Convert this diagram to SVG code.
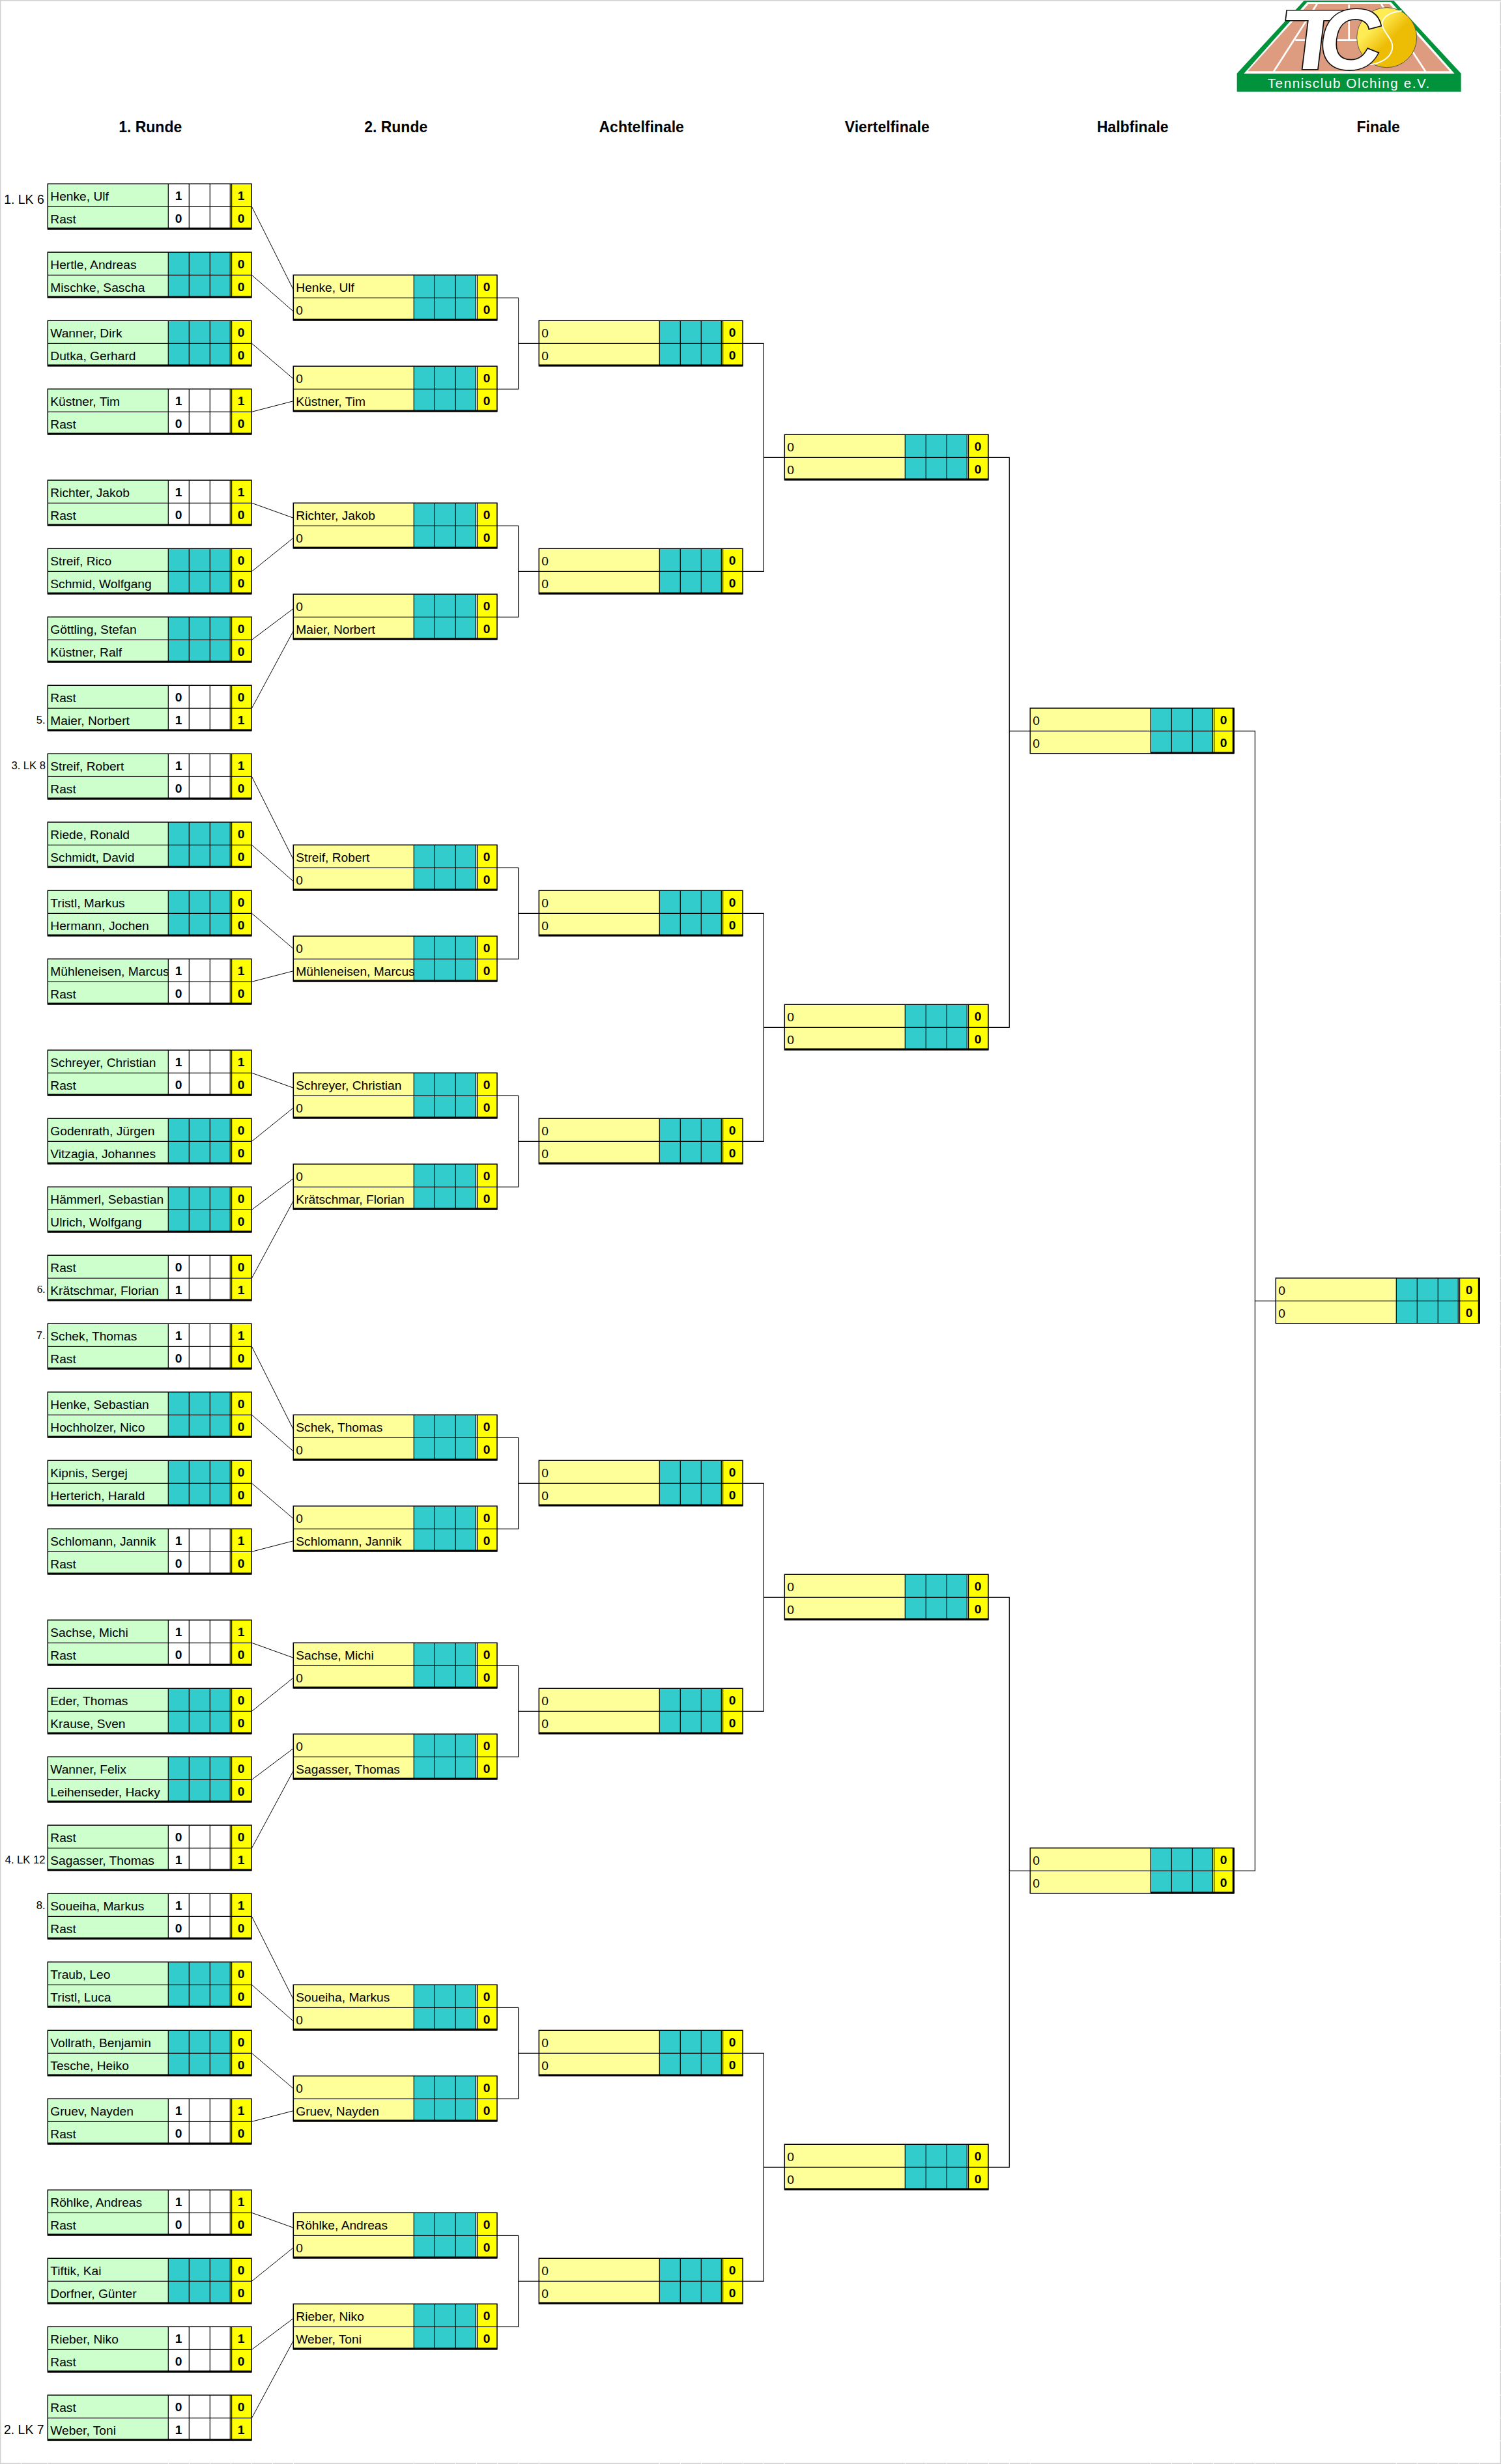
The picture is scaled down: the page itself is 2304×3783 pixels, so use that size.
<svg xmlns="http://www.w3.org/2000/svg" width="2304" height="3783" viewBox="0 0 2304 3783">
<style>
text{font-family:"Liberation Sans",Arial,sans-serif;fill:#000}
.n{font-size:19.2px}
.d{font-size:19.2px;font-weight:700;text-anchor:middle}
.h{font-size:23px;font-weight:700;text-anchor:middle}
.s{font-size:19.4px;text-anchor:end}
.t{font-size:16.6px;text-anchor:end}
.c{fill:none;stroke:#000;stroke-width:1.2}
.v{fill:none;stroke:#000;stroke-width:1}
.o{fill:none;stroke:#000;stroke-width:1.5}
.i{fill:none;stroke:#000;stroke-width:1.2}
.k{fill:none;stroke:#000;stroke-width:3}
</style>
<defs>
<linearGradient id="ball" x1="0.1" y1="0.1" x2="0.75" y2="0.75"><stop offset="0.3" stop-color="#FFEC55"/><stop offset="0.7" stop-color="#EDBC05"/></linearGradient>
<g id="a"><rect width="185" height="69.4" fill="#CCFFCC"/><rect x="281" width="31.7" height="69.4" fill="#FFFF00"/></g>
<g id="b"><rect width="185" height="69.4" fill="#CCFFCC"/><rect x="185" width="96" height="69.4" fill="#33CCCC"/><rect x="281" width="31.7" height="69.4" fill="#FFFF00"/></g>
<g id="e"><rect width="185" height="69.4" fill="#FFFF99"/><rect x="185" width="96" height="69.4" fill="#33CCCC"/><rect x="281" width="31.7" height="69.4" fill="#FFFF00"/></g>
<rect id="w" x="185" width="95" height="69.4" fill="#fff"/>
<g id="g"><path class="i" d="M0,35H312.7M185,0V69.4M217,0V69.4M249,0V69.4M280,0V69.4M282.3,0V69.4"/><path class="o" d="M0,0H312.7V69.4H0Z"/></g>
<g id="f"><use href="#g"/><path class="k" d="M0,68.7H312.7"/></g>
<g id="f5"><use href="#g"/><path class="k" d="M185,68.7H312.7M312,0V69.4"/></g>
<g id="f6"><use href="#g"/><path class="k" d="M312,0V69.4"/></g>
</defs>
<rect width="2304" height="3783" fill="#fff"/>
<g id="page-edge" fill="none" stroke="#D0D0D0" stroke-width="1.4">
<path d="M0.7,0V3783M0,0.7H2304M0,3782.3H2304"/>
<path d="M2303.3,2.8V3783" stroke-dasharray="34 1"/>
<path stroke="#fff" stroke-width="1" d="M32.3,3781V3783M73.3,3781V3783M258.3,3781V3783M290.3,3781V3783M322.3,3781V3783M354.3,3781V3783M386.3,3781V3783M418.3,3781V3783M450.3,3781V3783M635.3,3781V3783M667.3,3781V3783M699.3,3781V3783M731.3,3781V3783M763.3,3781V3783M795.3,3781V3783M827.3,3781V3783M1012.3,3781V3783M1044.3,3781V3783M1076.3,3781V3783M1108.3,3781V3783M1140.3,3781V3783M1172.3,3781V3783M1204.3,3781V3783M1389.3,3781V3783M1421.3,3781V3783M1453.3,3781V3783M1485.3,3781V3783M1517.3,3781V3783M1549.3,3781V3783M1581.3,3781V3783M1766.3,3781V3783M1798.3,3781V3783M1830.3,3781V3783M1862.3,3781V3783M1894.3,3781V3783M1926.3,3781V3783M1958.3,3781V3783M2143.3,3781V3783M2175.3,3781V3783M2207.3,3781V3783M2239.3,3781V3783M2271.3,3781V3783"/>
</g>
<g id="logo" transform="translate(1850,0) scale(.33333)">
<path fill="#00933B" d="M455,3H868L1178,338V422H146V338Z"/>
<path fill="#fff" d="M470,9H855L1148,339H178Z"/>
<path fill="#DD9C80" d="M476,18H848L1126,328H196Z"/>
<path fill="none" stroke="#fff" stroke-width="8" d="M315,330L515,18M1015,330L810,18M415,185H905M662,20V185"/>
<text transform="translate(340,318) skewX(-7) scale(1.2,1)" font-size="390" font-weight="700" style="fill:#fff;stroke:#111;stroke-width:9;paint-order:stroke;stroke-linejoin:miter">T</text>
<circle cx="836" cy="173" r="138" fill="url(#ball)" stroke="#555" stroke-width="3"/>
<path fill="none" stroke="#fff" stroke-width="6" d="M905,50C840,55 800,90 820,130C840,170 870,190 860,230C850,270 800,295 755,297"/>
<text transform="translate(512,318) skewX(-7)" font-size="395" font-weight="700" style="fill:#fff;stroke:#111;stroke-width:10;paint-order:stroke">C</text>
<text x="287" y="405" font-size="62" textLength="746" lengthAdjust="spacing" style="fill:#fff">Tennisclub Olching e.V.</text>
</g>
<g id="headers">
<text class="h" x="230.7" y="202.5">1. Runde</text>
<text class="h" x="607.7" y="202.5">2. Runde</text>
<text class="h" x="984.7" y="202.5">Achtelfinale</text>
<text class="h" x="1361.7" y="202.5">Viertelfinale</text>
<text class="h" x="1738.7" y="202.5">Halbfinale</text>
<text class="h" x="2115.7" y="202.5">Finale</text>
</g>
<g id="seeds">
<text class="s" x="67.7" y="313.3">1. LK 6</text>
<text class="t" x="69.5" y="1111">5.</text>
<text class="t" x="70" y="1181">3. LK 8</text>
<text x="69.5" y="1985" font-size="17" text-anchor="end" style="font-family:'Liberation Serif',serif">6.</text>
<text class="t" x="69.5" y="2055.7">7.</text>
<text class="t" x="69.5" y="2860.7">4. LK 12</text>
<text class="t" x="69.5" y="2930.7">8.</text>
<text class="s" x="67.5" y="3737.3">2. LK 7</text>
</g>
<g id="connectors">
<path class="v" d="M386.5,317.3L450.5,445M386.5,422.3L450.5,478.3M386.5,527.3L450.5,581.7M386.5,632.3L450.5,615.7M386.5,772.3L450.5,795.3M386.5,877.3L450.5,825.7M386.5,982.3L450.5,934.3M386.5,1087.3L450.5,968.3M386.5,1192.3L450.5,1320M386.5,1297.3L450.5,1353.3M386.5,1402.3L450.5,1456.7M386.5,1507.3L450.5,1490.7M386.5,1647.3L450.5,1670.3M386.5,1752.3L450.5,1700.7M386.5,1857.3L450.5,1809.3M386.5,1962.3L450.5,1843.3M386.5,2067.3L450.5,2195M386.5,2172.3L450.5,2228.3M386.5,2277.3L450.5,2331.7M386.5,2382.3L450.5,2365.7M386.5,2522.3L450.5,2545.3M386.5,2627.3L450.5,2575.7M386.5,2732.3L450.5,2684.3M386.5,2837.3L450.5,2718.3M386.5,2942.3L450.5,3070M386.5,3047.3L450.5,3103.3M386.5,3152.3L450.5,3206.7M386.5,3257.3L450.5,3240.7M386.5,3397.3L450.5,3420.3M386.5,3502.3L450.5,3450.7M386.5,3607.3L450.5,3559.3M386.5,3712.3L450.5,3593.3"/>
<path class="c" d="M763,457.3H795.7V597.3H763M795.7,527.3H827.3M763,807.3H795.7V947.3H763M795.7,877.3H827.3M763,1332.3H795.7V1472.3H763M795.7,1402.3H827.3M763,1682.3H795.7V1822.3H763M795.7,1752.3H827.3M763,2207.3H795.7V2347.3H763M795.7,2277.3H827.3M763,2557.3H795.7V2697.3H763M795.7,2627.3H827.3M763,3082.3H795.7V3222.3H763M795.7,3152.3H827.3M763,3432.3H795.7V3572.3H763M795.7,3502.3H827.3"/>
<path class="c" d="M1140,527.3H1172.2V877.3H1140M1172.2,702.3H1204.4M1140,1402.3H1172.2V1752.3H1140M1172.2,1577.3H1204.4M1140,2277.3H1172.2V2627.3H1140M1172.2,2452.3H1204.4M1140,3152.3H1172.2V3502.3H1140M1172.2,3327.3H1204.4"/>
<path class="c" d="M1517,702.3H1549.3V1577.3H1517M1549.3,1122.3H1581.5M1517,2452.3H1549.3V3327.3H1517M1549.3,2872.3H1581.5"/>
<path class="c" d="M1894,1122.3H1926.4V2872.3H1894M1926.4,1997.3H1958.3"/>
</g>
<g id="round1">
<g id="r1-1" transform="translate(73.3,282.3)"><use href="#a"/><text class="n" x="4" y="26">Henke, Ulf</text><text class="n" x="4" y="60.4">Rast</text><use href="#w"/><text class="d" x="200.7" y="25">1</text><text class="d" x="200.7" y="59.4">0</text><text class="d" x="296.7" y="25">1</text><text class="d" x="296.7" y="59.4">0</text><use href="#f"/></g>
<g id="r1-2" transform="translate(73.3,387.3)"><use href="#b"/><text class="n" x="4" y="26">Hertle, Andreas</text><text class="n" x="4" y="60.4">Mischke, Sascha</text><text class="d" x="296.7" y="25">0</text><text class="d" x="296.7" y="59.4">0</text><use href="#f"/></g>
<g id="r1-3" transform="translate(73.3,492.3)"><use href="#b"/><text class="n" x="4" y="26">Wanner, Dirk</text><text class="n" x="4" y="60.4">Dutka, Gerhard</text><text class="d" x="296.7" y="25">0</text><text class="d" x="296.7" y="59.4">0</text><use href="#f"/></g>
<g id="r1-4" transform="translate(73.3,597.3)"><use href="#a"/><text class="n" x="4" y="26">Küstner, Tim</text><text class="n" x="4" y="60.4">Rast</text><use href="#w"/><text class="d" x="200.7" y="25">1</text><text class="d" x="200.7" y="59.4">0</text><text class="d" x="296.7" y="25">1</text><text class="d" x="296.7" y="59.4">0</text><use href="#f"/></g>
<g id="r1-5" transform="translate(73.3,737.3)"><use href="#a"/><text class="n" x="4" y="26">Richter, Jakob</text><text class="n" x="4" y="60.4">Rast</text><use href="#w"/><text class="d" x="200.7" y="25">1</text><text class="d" x="200.7" y="59.4">0</text><text class="d" x="296.7" y="25">1</text><text class="d" x="296.7" y="59.4">0</text><use href="#f"/></g>
<g id="r1-6" transform="translate(73.3,842.3)"><use href="#b"/><text class="n" x="4" y="26">Streif, Rico</text><text class="n" x="4" y="60.4">Schmid, Wolfgang</text><text class="d" x="296.7" y="25">0</text><text class="d" x="296.7" y="59.4">0</text><use href="#f"/></g>
<g id="r1-7" transform="translate(73.3,947.3)"><use href="#b"/><text class="n" x="4" y="26">Göttling, Stefan</text><text class="n" x="4" y="60.4">Küstner, Ralf</text><text class="d" x="296.7" y="25">0</text><text class="d" x="296.7" y="59.4">0</text><use href="#f"/></g>
<g id="r1-8" transform="translate(73.3,1052.3)"><use href="#a"/><text class="n" x="4" y="26">Rast</text><text class="n" x="4" y="60.4">Maier, Norbert</text><use href="#w"/><text class="d" x="200.7" y="25">0</text><text class="d" x="200.7" y="59.4">1</text><text class="d" x="296.7" y="25">0</text><text class="d" x="296.7" y="59.4">1</text><use href="#f"/></g>
<g id="r1-9" transform="translate(73.3,1157.3)"><use href="#a"/><text class="n" x="4" y="26">Streif, Robert</text><text class="n" x="4" y="60.4">Rast</text><use href="#w"/><text class="d" x="200.7" y="25">1</text><text class="d" x="200.7" y="59.4">0</text><text class="d" x="296.7" y="25">1</text><text class="d" x="296.7" y="59.4">0</text><use href="#f"/></g>
<g id="r1-10" transform="translate(73.3,1262.3)"><use href="#b"/><text class="n" x="4" y="26">Riede, Ronald</text><text class="n" x="4" y="60.4">Schmidt, David</text><text class="d" x="296.7" y="25">0</text><text class="d" x="296.7" y="59.4">0</text><use href="#f"/></g>
<g id="r1-11" transform="translate(73.3,1367.3)"><use href="#b"/><text class="n" x="4" y="26">Tristl, Markus</text><text class="n" x="4" y="60.4">Hermann, Jochen</text><text class="d" x="296.7" y="25">0</text><text class="d" x="296.7" y="59.4">0</text><use href="#f"/></g>
<g id="r1-12" transform="translate(73.3,1472.3)"><use href="#a"/><text class="n" x="4" y="26">Mühleneisen, Marcus</text><text class="n" x="4" y="60.4">Rast</text><use href="#w"/><text class="d" x="200.7" y="25">1</text><text class="d" x="200.7" y="59.4">0</text><text class="d" x="296.7" y="25">1</text><text class="d" x="296.7" y="59.4">0</text><use href="#f"/></g>
<g id="r1-13" transform="translate(73.3,1612.3)"><use href="#a"/><text class="n" x="4" y="26">Schreyer, Christian</text><text class="n" x="4" y="60.4">Rast</text><use href="#w"/><text class="d" x="200.7" y="25">1</text><text class="d" x="200.7" y="59.4">0</text><text class="d" x="296.7" y="25">1</text><text class="d" x="296.7" y="59.4">0</text><use href="#f"/></g>
<g id="r1-14" transform="translate(73.3,1717.3)"><use href="#b"/><text class="n" x="4" y="26">Godenrath, Jürgen</text><text class="n" x="4" y="60.4">Vitzagia, Johannes</text><text class="d" x="296.7" y="25">0</text><text class="d" x="296.7" y="59.4">0</text><use href="#f"/></g>
<g id="r1-15" transform="translate(73.3,1822.3)"><use href="#b"/><text class="n" x="4" y="26">Hämmerl, Sebastian</text><text class="n" x="4" y="60.4">Ulrich, Wolfgang</text><text class="d" x="296.7" y="25">0</text><text class="d" x="296.7" y="59.4">0</text><use href="#f"/></g>
<g id="r1-16" transform="translate(73.3,1927.3)"><use href="#a"/><text class="n" x="4" y="26">Rast</text><text class="n" x="4" y="60.4">Krätschmar, Florian</text><use href="#w"/><text class="d" x="200.7" y="25">0</text><text class="d" x="200.7" y="59.4">1</text><text class="d" x="296.7" y="25">0</text><text class="d" x="296.7" y="59.4">1</text><use href="#f"/></g>
<g id="r1-17" transform="translate(73.3,2032.3)"><use href="#a"/><text class="n" x="4" y="26">Schek, Thomas</text><text class="n" x="4" y="60.4">Rast</text><use href="#w"/><text class="d" x="200.7" y="25">1</text><text class="d" x="200.7" y="59.4">0</text><text class="d" x="296.7" y="25">1</text><text class="d" x="296.7" y="59.4">0</text><use href="#f"/></g>
<g id="r1-18" transform="translate(73.3,2137.3)"><use href="#b"/><text class="n" x="4" y="26">Henke, Sebastian</text><text class="n" x="4" y="60.4">Hochholzer, Nico</text><text class="d" x="296.7" y="25">0</text><text class="d" x="296.7" y="59.4">0</text><use href="#f"/></g>
<g id="r1-19" transform="translate(73.3,2242.3)"><use href="#b"/><text class="n" x="4" y="26">Kipnis, Sergej</text><text class="n" x="4" y="60.4">Herterich, Harald</text><text class="d" x="296.7" y="25">0</text><text class="d" x="296.7" y="59.4">0</text><use href="#f"/></g>
<g id="r1-20" transform="translate(73.3,2347.3)"><use href="#a"/><text class="n" x="4" y="26">Schlomann, Jannik</text><text class="n" x="4" y="60.4">Rast</text><use href="#w"/><text class="d" x="200.7" y="25">1</text><text class="d" x="200.7" y="59.4">0</text><text class="d" x="296.7" y="25">1</text><text class="d" x="296.7" y="59.4">0</text><use href="#f"/></g>
<g id="r1-21" transform="translate(73.3,2487.3)"><use href="#a"/><text class="n" x="4" y="26">Sachse, Michi</text><text class="n" x="4" y="60.4">Rast</text><use href="#w"/><text class="d" x="200.7" y="25">1</text><text class="d" x="200.7" y="59.4">0</text><text class="d" x="296.7" y="25">1</text><text class="d" x="296.7" y="59.4">0</text><use href="#f"/></g>
<g id="r1-22" transform="translate(73.3,2592.3)"><use href="#b"/><text class="n" x="4" y="26">Eder, Thomas</text><text class="n" x="4" y="60.4">Krause, Sven</text><text class="d" x="296.7" y="25">0</text><text class="d" x="296.7" y="59.4">0</text><use href="#f"/></g>
<g id="r1-23" transform="translate(73.3,2697.3)"><use href="#b"/><text class="n" x="4" y="26">Wanner, Felix</text><text class="n" x="4" y="60.4">Leihenseder, Hacky</text><text class="d" x="296.7" y="25">0</text><text class="d" x="296.7" y="59.4">0</text><use href="#f"/></g>
<g id="r1-24" transform="translate(73.3,2802.3)"><use href="#a"/><text class="n" x="4" y="26">Rast</text><text class="n" x="4" y="60.4">Sagasser, Thomas</text><use href="#w"/><text class="d" x="200.7" y="25">0</text><text class="d" x="200.7" y="59.4">1</text><text class="d" x="296.7" y="25">0</text><text class="d" x="296.7" y="59.4">1</text><use href="#f"/></g>
<g id="r1-25" transform="translate(73.3,2907.3)"><use href="#a"/><text class="n" x="4" y="26">Soueiha, Markus</text><text class="n" x="4" y="60.4">Rast</text><use href="#w"/><text class="d" x="200.7" y="25">1</text><text class="d" x="200.7" y="59.4">0</text><text class="d" x="296.7" y="25">1</text><text class="d" x="296.7" y="59.4">0</text><use href="#f"/></g>
<g id="r1-26" transform="translate(73.3,3012.3)"><use href="#b"/><text class="n" x="4" y="26">Traub, Leo</text><text class="n" x="4" y="60.4">Tristl, Luca</text><text class="d" x="296.7" y="25">0</text><text class="d" x="296.7" y="59.4">0</text><use href="#f"/></g>
<g id="r1-27" transform="translate(73.3,3117.3)"><use href="#b"/><text class="n" x="4" y="26">Vollrath, Benjamin</text><text class="n" x="4" y="60.4">Tesche, Heiko</text><text class="d" x="296.7" y="25">0</text><text class="d" x="296.7" y="59.4">0</text><use href="#f"/></g>
<g id="r1-28" transform="translate(73.3,3222.3)"><use href="#a"/><text class="n" x="4" y="26">Gruev, Nayden</text><text class="n" x="4" y="60.4">Rast</text><use href="#w"/><text class="d" x="200.7" y="25">1</text><text class="d" x="200.7" y="59.4">0</text><text class="d" x="296.7" y="25">1</text><text class="d" x="296.7" y="59.4">0</text><use href="#f"/></g>
<g id="r1-29" transform="translate(73.3,3362.3)"><use href="#a"/><text class="n" x="4" y="26">Röhlke, Andreas</text><text class="n" x="4" y="60.4">Rast</text><use href="#w"/><text class="d" x="200.7" y="25">1</text><text class="d" x="200.7" y="59.4">0</text><text class="d" x="296.7" y="25">1</text><text class="d" x="296.7" y="59.4">0</text><use href="#f"/></g>
<g id="r1-30" transform="translate(73.3,3467.3)"><use href="#b"/><text class="n" x="4" y="26">Tiftik, Kai</text><text class="n" x="4" y="60.4">Dorfner, Günter</text><text class="d" x="296.7" y="25">0</text><text class="d" x="296.7" y="59.4">0</text><use href="#f"/></g>
<g id="r1-31" transform="translate(73.3,3572.3)"><use href="#a"/><text class="n" x="4" y="26">Rieber, Niko</text><text class="n" x="4" y="60.4">Rast</text><use href="#w"/><text class="d" x="200.7" y="25">1</text><text class="d" x="200.7" y="59.4">0</text><text class="d" x="296.7" y="25">1</text><text class="d" x="296.7" y="59.4">0</text><use href="#f"/></g>
<g id="r1-32" transform="translate(73.3,3677.3)"><use href="#a"/><text class="n" x="4" y="26">Rast</text><text class="n" x="4" y="60.4">Weber, Toni</text><use href="#w"/><text class="d" x="200.7" y="25">0</text><text class="d" x="200.7" y="59.4">1</text><text class="d" x="296.7" y="25">0</text><text class="d" x="296.7" y="59.4">1</text><use href="#f"/></g>
</g>
<g id="round2">
<g id="r2-1" transform="translate(450.3,422.3)"><use href="#e"/><text class="n" x="4" y="26">Henke, Ulf</text><text class="n" x="4" y="60.4">0</text><text class="d" x="296.7" y="25">0</text><text class="d" x="296.7" y="59.4">0</text><use href="#f"/></g>
<g id="r2-2" transform="translate(450.3,562.3)"><use href="#e"/><text class="n" x="4" y="26">0</text><text class="n" x="4" y="60.4">Küstner, Tim</text><text class="d" x="296.7" y="25">0</text><text class="d" x="296.7" y="59.4">0</text><use href="#f"/></g>
<g id="r2-3" transform="translate(450.3,772.3)"><use href="#e"/><text class="n" x="4" y="26">Richter, Jakob</text><text class="n" x="4" y="60.4">0</text><text class="d" x="296.7" y="25">0</text><text class="d" x="296.7" y="59.4">0</text><use href="#f"/></g>
<g id="r2-4" transform="translate(450.3,912.3)"><use href="#e"/><text class="n" x="4" y="26">0</text><text class="n" x="4" y="60.4">Maier, Norbert</text><text class="d" x="296.7" y="25">0</text><text class="d" x="296.7" y="59.4">0</text><use href="#f"/></g>
<g id="r2-5" transform="translate(450.3,1297.3)"><use href="#e"/><text class="n" x="4" y="26">Streif, Robert</text><text class="n" x="4" y="60.4">0</text><text class="d" x="296.7" y="25">0</text><text class="d" x="296.7" y="59.4">0</text><use href="#f"/></g>
<g id="r2-6" transform="translate(450.3,1437.3)"><use href="#e"/><text class="n" x="4" y="26">0</text><text class="n" x="4" y="60.4">Mühleneisen, Marcus</text><text class="d" x="296.7" y="25">0</text><text class="d" x="296.7" y="59.4">0</text><use href="#f"/></g>
<g id="r2-7" transform="translate(450.3,1647.3)"><use href="#e"/><text class="n" x="4" y="26">Schreyer, Christian</text><text class="n" x="4" y="60.4">0</text><text class="d" x="296.7" y="25">0</text><text class="d" x="296.7" y="59.4">0</text><use href="#f"/></g>
<g id="r2-8" transform="translate(450.3,1787.3)"><use href="#e"/><text class="n" x="4" y="26">0</text><text class="n" x="4" y="60.4">Krätschmar, Florian</text><text class="d" x="296.7" y="25">0</text><text class="d" x="296.7" y="59.4">0</text><use href="#f"/></g>
<g id="r2-9" transform="translate(450.3,2172.3)"><use href="#e"/><text class="n" x="4" y="26">Schek, Thomas</text><text class="n" x="4" y="60.4">0</text><text class="d" x="296.7" y="25">0</text><text class="d" x="296.7" y="59.4">0</text><use href="#f"/></g>
<g id="r2-10" transform="translate(450.3,2312.3)"><use href="#e"/><text class="n" x="4" y="26">0</text><text class="n" x="4" y="60.4">Schlomann, Jannik</text><text class="d" x="296.7" y="25">0</text><text class="d" x="296.7" y="59.4">0</text><use href="#f"/></g>
<g id="r2-11" transform="translate(450.3,2522.3)"><use href="#e"/><text class="n" x="4" y="26">Sachse, Michi</text><text class="n" x="4" y="60.4">0</text><text class="d" x="296.7" y="25">0</text><text class="d" x="296.7" y="59.4">0</text><use href="#f"/></g>
<g id="r2-12" transform="translate(450.3,2662.3)"><use href="#e"/><text class="n" x="4" y="26">0</text><text class="n" x="4" y="60.4">Sagasser, Thomas</text><text class="d" x="296.7" y="25">0</text><text class="d" x="296.7" y="59.4">0</text><use href="#f"/></g>
<g id="r2-13" transform="translate(450.3,3047.3)"><use href="#e"/><text class="n" x="4" y="26">Soueiha, Markus</text><text class="n" x="4" y="60.4">0</text><text class="d" x="296.7" y="25">0</text><text class="d" x="296.7" y="59.4">0</text><use href="#f"/></g>
<g id="r2-14" transform="translate(450.3,3187.3)"><use href="#e"/><text class="n" x="4" y="26">0</text><text class="n" x="4" y="60.4">Gruev, Nayden</text><text class="d" x="296.7" y="25">0</text><text class="d" x="296.7" y="59.4">0</text><use href="#f"/></g>
<g id="r2-15" transform="translate(450.3,3397.3)"><use href="#e"/><text class="n" x="4" y="26">Röhlke, Andreas</text><text class="n" x="4" y="60.4">0</text><text class="d" x="296.7" y="25">0</text><text class="d" x="296.7" y="59.4">0</text><use href="#f"/></g>
<g id="r2-16" transform="translate(450.3,3537.3)"><use href="#e"/><text class="n" x="4" y="26">Rieber, Niko</text><text class="n" x="4" y="60.4">Weber, Toni</text><text class="d" x="296.7" y="25">0</text><text class="d" x="296.7" y="59.4">0</text><use href="#f"/></g>
</g>
<g id="round3">
<g id="r3-1" transform="translate(827.3,492.3)"><use href="#e"/><text class="n" x="4" y="26">0</text><text class="n" x="4" y="60.4">0</text><text class="d" x="296.7" y="25">0</text><text class="d" x="296.7" y="59.4">0</text><use href="#f"/></g>
<g id="r3-2" transform="translate(827.3,842.3)"><use href="#e"/><text class="n" x="4" y="26">0</text><text class="n" x="4" y="60.4">0</text><text class="d" x="296.7" y="25">0</text><text class="d" x="296.7" y="59.4">0</text><use href="#f"/></g>
<g id="r3-3" transform="translate(827.3,1367.3)"><use href="#e"/><text class="n" x="4" y="26">0</text><text class="n" x="4" y="60.4">0</text><text class="d" x="296.7" y="25">0</text><text class="d" x="296.7" y="59.4">0</text><use href="#f"/></g>
<g id="r3-4" transform="translate(827.3,1717.3)"><use href="#e"/><text class="n" x="4" y="26">0</text><text class="n" x="4" y="60.4">0</text><text class="d" x="296.7" y="25">0</text><text class="d" x="296.7" y="59.4">0</text><use href="#f"/></g>
<g id="r3-5" transform="translate(827.3,2242.3)"><use href="#e"/><text class="n" x="4" y="26">0</text><text class="n" x="4" y="60.4">0</text><text class="d" x="296.7" y="25">0</text><text class="d" x="296.7" y="59.4">0</text><use href="#f"/></g>
<g id="r3-6" transform="translate(827.3,2592.3)"><use href="#e"/><text class="n" x="4" y="26">0</text><text class="n" x="4" y="60.4">0</text><text class="d" x="296.7" y="25">0</text><text class="d" x="296.7" y="59.4">0</text><use href="#f"/></g>
<g id="r3-7" transform="translate(827.3,3117.3)"><use href="#e"/><text class="n" x="4" y="26">0</text><text class="n" x="4" y="60.4">0</text><text class="d" x="296.7" y="25">0</text><text class="d" x="296.7" y="59.4">0</text><use href="#f"/></g>
<g id="r3-8" transform="translate(827.3,3467.3)"><use href="#e"/><text class="n" x="4" y="26">0</text><text class="n" x="4" y="60.4">0</text><text class="d" x="296.7" y="25">0</text><text class="d" x="296.7" y="59.4">0</text><use href="#f"/></g>
</g>
<g id="round4">
<g id="r4-1" transform="translate(1204.3,667.3)"><use href="#e"/><text class="n" x="4" y="26">0</text><text class="n" x="4" y="60.4">0</text><text class="d" x="296.7" y="25">0</text><text class="d" x="296.7" y="59.4">0</text><use href="#f"/></g>
<g id="r4-2" transform="translate(1204.3,1542.3)"><use href="#e"/><text class="n" x="4" y="26">0</text><text class="n" x="4" y="60.4">0</text><text class="d" x="296.7" y="25">0</text><text class="d" x="296.7" y="59.4">0</text><use href="#f"/></g>
<g id="r4-3" transform="translate(1204.3,2417.3)"><use href="#e"/><text class="n" x="4" y="26">0</text><text class="n" x="4" y="60.4">0</text><text class="d" x="296.7" y="25">0</text><text class="d" x="296.7" y="59.4">0</text><use href="#f"/></g>
<g id="r4-4" transform="translate(1204.3,3292.3)"><use href="#e"/><text class="n" x="4" y="26">0</text><text class="n" x="4" y="60.4">0</text><text class="d" x="296.7" y="25">0</text><text class="d" x="296.7" y="59.4">0</text><use href="#f"/></g>
</g>
<g id="round5">
<g id="r5-1" transform="translate(1581.3,1087.3)"><use href="#e"/><text class="n" x="4" y="26">0</text><text class="n" x="4" y="60.4">0</text><text class="d" x="296.7" y="25">0</text><text class="d" x="296.7" y="59.4">0</text><use href="#f5"/></g>
<g id="r5-2" transform="translate(1581.3,2837.3)"><use href="#e"/><text class="n" x="4" y="26">0</text><text class="n" x="4" y="60.4">0</text><text class="d" x="296.7" y="25">0</text><text class="d" x="296.7" y="59.4">0</text><use href="#f5"/></g>
</g>
<g id="round6">
<g id="r6-1" transform="translate(1958.3,1962.3)"><use href="#e"/><text class="n" x="4" y="26">0</text><text class="n" x="4" y="60.4">0</text><text class="d" x="296.7" y="25">0</text><text class="d" x="296.7" y="59.4">0</text><use href="#f6"/></g>
</g>
</svg>
